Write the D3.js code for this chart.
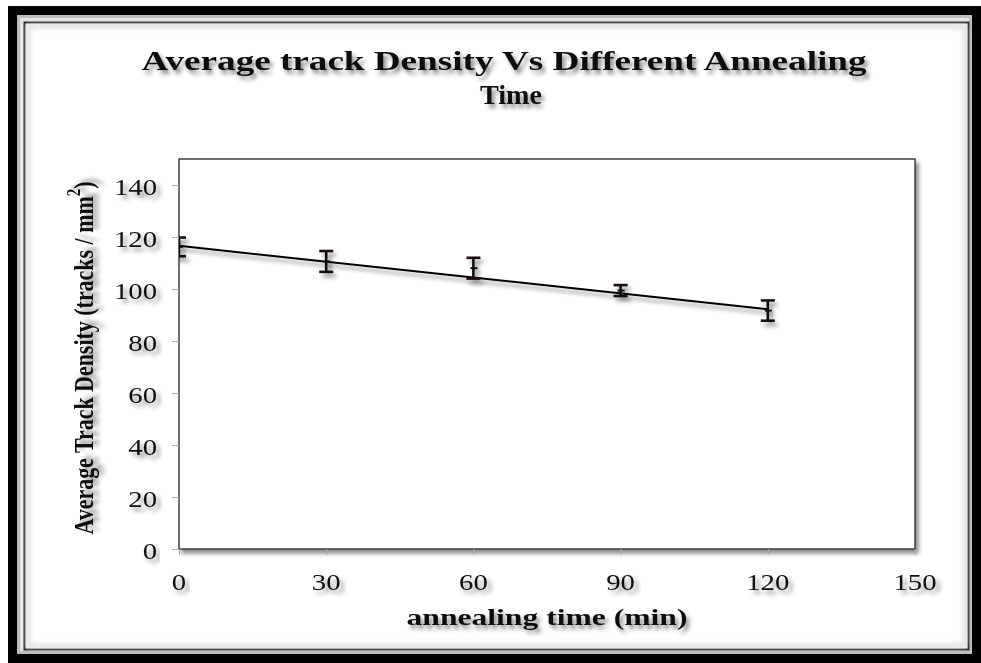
<!DOCTYPE html>
<html>
<head>
<meta charset="utf-8">
<script src="https://cdn.jsdelivr.net/npm/d3@7"></script>
<style>
  body { margin: 0; background: #ffffff; }
  svg { display: block; }
  text { font-family: "Liberation Serif", "Times New Roman", serif; fill: #111; }
</style>
</head>
<body>
<div id="chart"></div>
<script>
// data
const times = [0, 30, 60, 90, 120];
const density = [116.2, 110.6, 108.0, 99.4, 91.7];
const errors = [3.6, 4.0, 4.0, 2.1, 3.9];
const trendTimes = [0, 120];
const trendDensity = [116.6, 92.2];
const xTicks = [0, 30, 60, 90, 120, 150];
const yTicks = [0, 20, 40, 60, 80, 100, 120, 140];
const titleLines = ["Average track Density Vs Different Annealing", "Time"];
const xTitle = "annealing time (min)";
const yTitle = "Average Track Density (tracks / mm";

const W = 981, H = 663;
const plot = {left: 179, right: 915, top: 159, bottom: 549};

const svg = d3.select("#chart").append("svg")
  .attr("width", W)
  .attr("height", H);

// drop shadow used by text and lines
const defs = svg.append("defs");
const f = defs.append("filter").attr("id", "shadow")
  .attr("x", "-20%").attr("y", "-20%").attr("width", "140%").attr("height", "160%");
f.append("feDropShadow")
  .attr("dx", 3).attr("dy", 4).attr("stdDeviation", 2.2)
  .attr("flood-color", "#000").attr("flood-opacity", 0.45);

const blur = defs.append("filter").attr("id", "soft");
blur.append("feGaussianBlur").attr("stdDeviation", 2.5);

defs.append("clipPath").attr("id", "plotclip")
  .append("rect")
    .attr("x", plot.left).attr("y", plot.top - 20)
    .attr("width", plot.right - plot.left).attr("height", plot.bottom - plot.top + 40);

// frame: thick black outer border, grey band, thin inner line
svg.append("rect").attr("x", 8).attr("y", 6).attr("width", W - 8).attr("height", H - 6).attr("fill", "#000");
svg.append("rect").attr("x", 17).attr("y", 15).attr("width", 955).attr("height", 639).attr("fill", "#bdbdbd");
svg.append("rect").attr("x", 20).attr("y", 18).attr("width", 949).attr("height", 633).attr("fill", "#e6e6e6");
svg.append("rect").attr("x", 24.5).attr("y", 22.5).attr("width", 944).attr("height", 627)
  .attr("fill", "#ffffff").attr("stroke", "#1a1a1a").attr("stroke-width", 2);
svg.append("rect").attr("x", 28).attr("y", 26).attr("width", 937).attr("height", 620)
  .attr("fill", "none").attr("stroke", "#d8d8d8").attr("stroke-width", 4).attr("filter", "url(#soft)");

// helper for the wide, stretched text of the picture
function addText(parent, str, x, y, opts) {
  const t = parent.append("text")
    .attr("transform", "translate(" + x + "," + y + ") scale(" + (opts.sx || 1) + ",1)")
    .attr("text-anchor", opts.anchor || "middle")
    .attr("font-size", opts.size)
    .attr("font-weight", opts.bold ? "bold" : "normal")
    .attr("filter", "url(#shadow)")
    .text(str);
  if (opts.width) {
    t.attr("textLength", opts.width / (opts.sx || 1))
     .attr("lengthAdjust", opts.adjust || "spacingAndGlyphs");
  }
  return t;
}

// title
addText(svg, titleLines[0], 504, 70, {size: 27, bold: true, width: 725});
addText(svg, titleLines[1], 511, 104, {size: 27, bold: true, width: 62});

const x = d3.scaleLinear().domain([0, 150]).range([plot.left, plot.right]);
const y = d3.scaleLinear().domain([0, 150]).range([plot.bottom, plot.top]);

// plot box
svg.append("rect")
  .attr("x", plot.left).attr("y", plot.top)
  .attr("width", plot.right - plot.left).attr("height", plot.bottom - plot.top)
  .attr("fill", "#fff").attr("stroke", "#333").attr("stroke-width", 1.4)
  .attr("filter", "url(#shadow)");

// axes
const xAxis = svg.append("g")
  .attr("transform", "translate(0," + plot.bottom + ")")
  .call(d3.axisBottom(x).tickValues(xTicks).tickSize(6).tickSizeOuter(0).tickFormat(""));
const yAxis = svg.append("g")
  .attr("transform", "translate(" + plot.left + ",0)")
  .call(d3.axisLeft(y).tickValues(yTicks).tickSize(7).tickSizeOuter(0).tickFormat(""));
[xAxis, yAxis].forEach(a => {
  a.select(".domain").attr("stroke", "#000").attr("stroke-width", 2).attr("filter", "url(#shadow)");
  a.selectAll(".tick line").attr("stroke", "#aaa").attr("stroke-width", 1);
});

// tick labels
xTicks.forEach(v => addText(svg, String(v), x(v), 590, {size: 23, sx: 1.25}));
yTicks.forEach(v => addText(svg, String(v), 157, y(v) + 9.5, {size: 23, sx: 1.25, anchor: "end"}));

// axis titles
addText(svg, xTitle, 547, 625, {size: 23, bold: true, width: 281});
const yt = svg.append("text")
  .attr("transform", "translate(93,358) scale(1.27,1) rotate(-90)")
  .attr("text-anchor", "middle")
  .attr("font-size", 22)
  .attr("font-weight", "bold")
  .attr("filter", "url(#shadow)")
  .attr("textLength", 353)
  .attr("lengthAdjust", "spacingAndGlyphs");
yt.append("tspan").text(yTitle);
yt.append("tspan").attr("font-size", 15).attr("dy", -10).text("2");
yt.append("tspan").attr("dy", 10).text(")");

// trend line
const line = d3.line().x(d => x(d[0])).y(d => y(d[1]));
svg.append("path")
  .datum(d3.zip(trendTimes, trendDensity))
  .attr("d", line)
  .attr("fill", "none")
  .attr("stroke", "#000")
  .attr("stroke-width", 2)
  .attr("filter", "url(#shadow)");

// error bars
const pts = times.map((t, i) => ({t: t, v: density[i], e: errors[i]}));
const bars = svg.append("g").attr("clip-path", "url(#plotclip)")
  .append("g").attr("filter", "url(#shadow)")
  .selectAll("g").data(pts).enter().append("g");
const cap = 7;
bars.append("line")
  .attr("x1", d => x(d.t)).attr("x2", d => x(d.t))
  .attr("y1", d => y(d.v + d.e)).attr("y2", d => y(d.v - d.e))
  .attr("stroke", "#111").attr("stroke-width", 2.6);
bars.append("line")
  .attr("x1", d => x(d.t) - cap).attr("x2", d => x(d.t) + cap)
  .attr("y1", d => y(d.v + d.e)).attr("y2", d => y(d.v + d.e))
  .attr("stroke", "#1a0a16").attr("stroke-width", 2.6);
bars.append("line")
  .attr("x1", d => x(d.t) - cap).attr("x2", d => x(d.t) + cap)
  .attr("y1", d => y(d.v - d.e)).attr("y2", d => y(d.v - d.e))
  .attr("stroke", "#160a0a").attr("stroke-width", 2.6);
// small marker at the mean
bars.append("line")
  .attr("x1", d => x(d.t) - 3).attr("x2", d => x(d.t) + 4)
  .attr("y1", d => y(d.v)).attr("y2", d => y(d.v))
  .attr("stroke", "#111").attr("stroke-width", 2);
</script>
</body>
</html>
